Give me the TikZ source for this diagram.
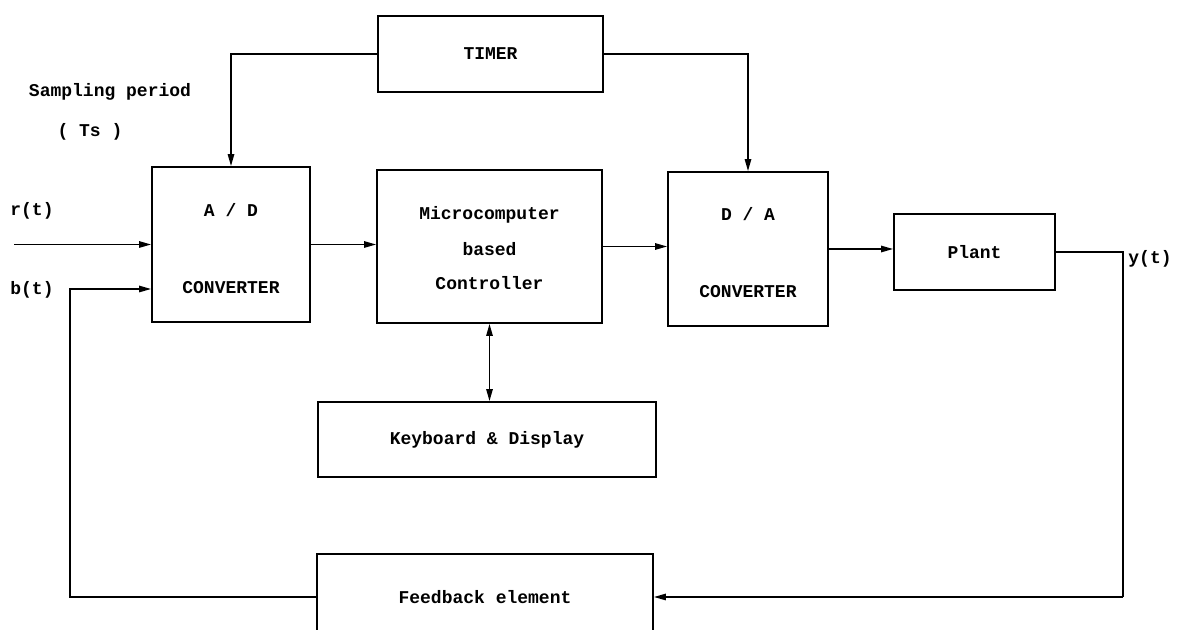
\documentclass[tikz,border=0pt]{standalone}
\usepackage{fontspec}
\setmonofont{Liberation Mono}
\usetikzlibrary{arrows.meta}
\begin{document}
\begin{tikzpicture}[x=0.5pt,y=-0.5pt,
  blk/.style={draw,line width=0.9pt,rectangle,inner sep=0pt,align=center,font=\ttfamily\bfseries\fontsize{9}{10}\selectfont},
  lbl/.style={inner sep=0pt,font=\ttfamily\bfseries\fontsize{9}{10}\selectfont},
  arr/.style={line width=0.8pt,-{Triangle[length=6pt,width=3.2pt]}},
  darr/.style={line width=0.8pt,{Triangle[length=6pt,width=3.2pt]}-{Triangle[length=6pt,width=3.2pt]}},
  ln/.style={line width=0.8pt}]
\useasboundingbox (0,0) rectangle (1184,630);
\clip (0,0) rectangle (1184,630);
\fill[white] (0,0) rectangle (1184,630);
% blocks
\node[blk,minimum width=112.5pt,minimum height=38pt] (timer) at (490.5,54) {TIMER};
\node[blk,minimum width=79pt,minimum height=77.5pt] (ad) at (231,244.5) {};
\node[lbl] (adt) at (231,210) {A / D};
\node[lbl] (adb) at (231,288) {CONVERTER};
\node[blk,minimum width=112.5pt,minimum height=76.5pt] (mc) at (489.5,246.5) {};
\node[lbl] (mc1) at (489.5,215) {Microcomputer};
\node[lbl] (mc2) at (489.5,249) {based};
\node[lbl] (mc3) at (489.5,283) {Controller};
\node[blk,minimum width=80pt,minimum height=77pt] (da) at (748,249) {};
\node[lbl] (dat) at (748,214) {D / A};
\node[lbl] (dab) at (748,292) {CONVERTER};
\node[blk,minimum width=80.5pt,minimum height=38pt] (plant) at (974.5,252) {Plant};
\node[blk,minimum width=169pt,minimum height=37.5pt] (kb) at (487,439.5) {Keyboard \& Display};
\node[blk,minimum width=168pt,minimum height=43pt] (fb) at (485,597) {Feedback element};
% labels
\node[lbl] (sp) at (110,92) {Sampling period};
\node[lbl] (ts) at (90,132) {( Ts )};
\node[lbl] (rt) at (32,211) {r(t)};
\node[lbl] (bt) at (32,290) {b(t)};
\node[lbl] (yt) at (1150,259) {y(t)};
% connectors
\coordinate (rin) at (14,244.5);
\coordinate (bcorner) at (70,289);
\coordinate (ycorner) at (1123,597);
\draw[arr] (timer.west) -| (ad.north);
\draw[arr] (timer.east) -| (da.north);
\draw[arr] (rin) -- (ad.west);
\draw[arr] (fb.west) -| (bcorner) -- (bcorner -| ad.west);
\draw[arr] (ad.east) -- (ad.east -| mc.west);
\draw[arr] (mc.east) -- (mc.east -| da.west);
\draw[arr] (da.east) -- (da.east -| plant.west);
\draw[ln] (plant.east) -| (ycorner);
\draw[arr] (ycorner) -- (fb.east);
\draw[darr] (mc.south) -- (mc.south |- kb.north);
\end{tikzpicture}
\end{document}
